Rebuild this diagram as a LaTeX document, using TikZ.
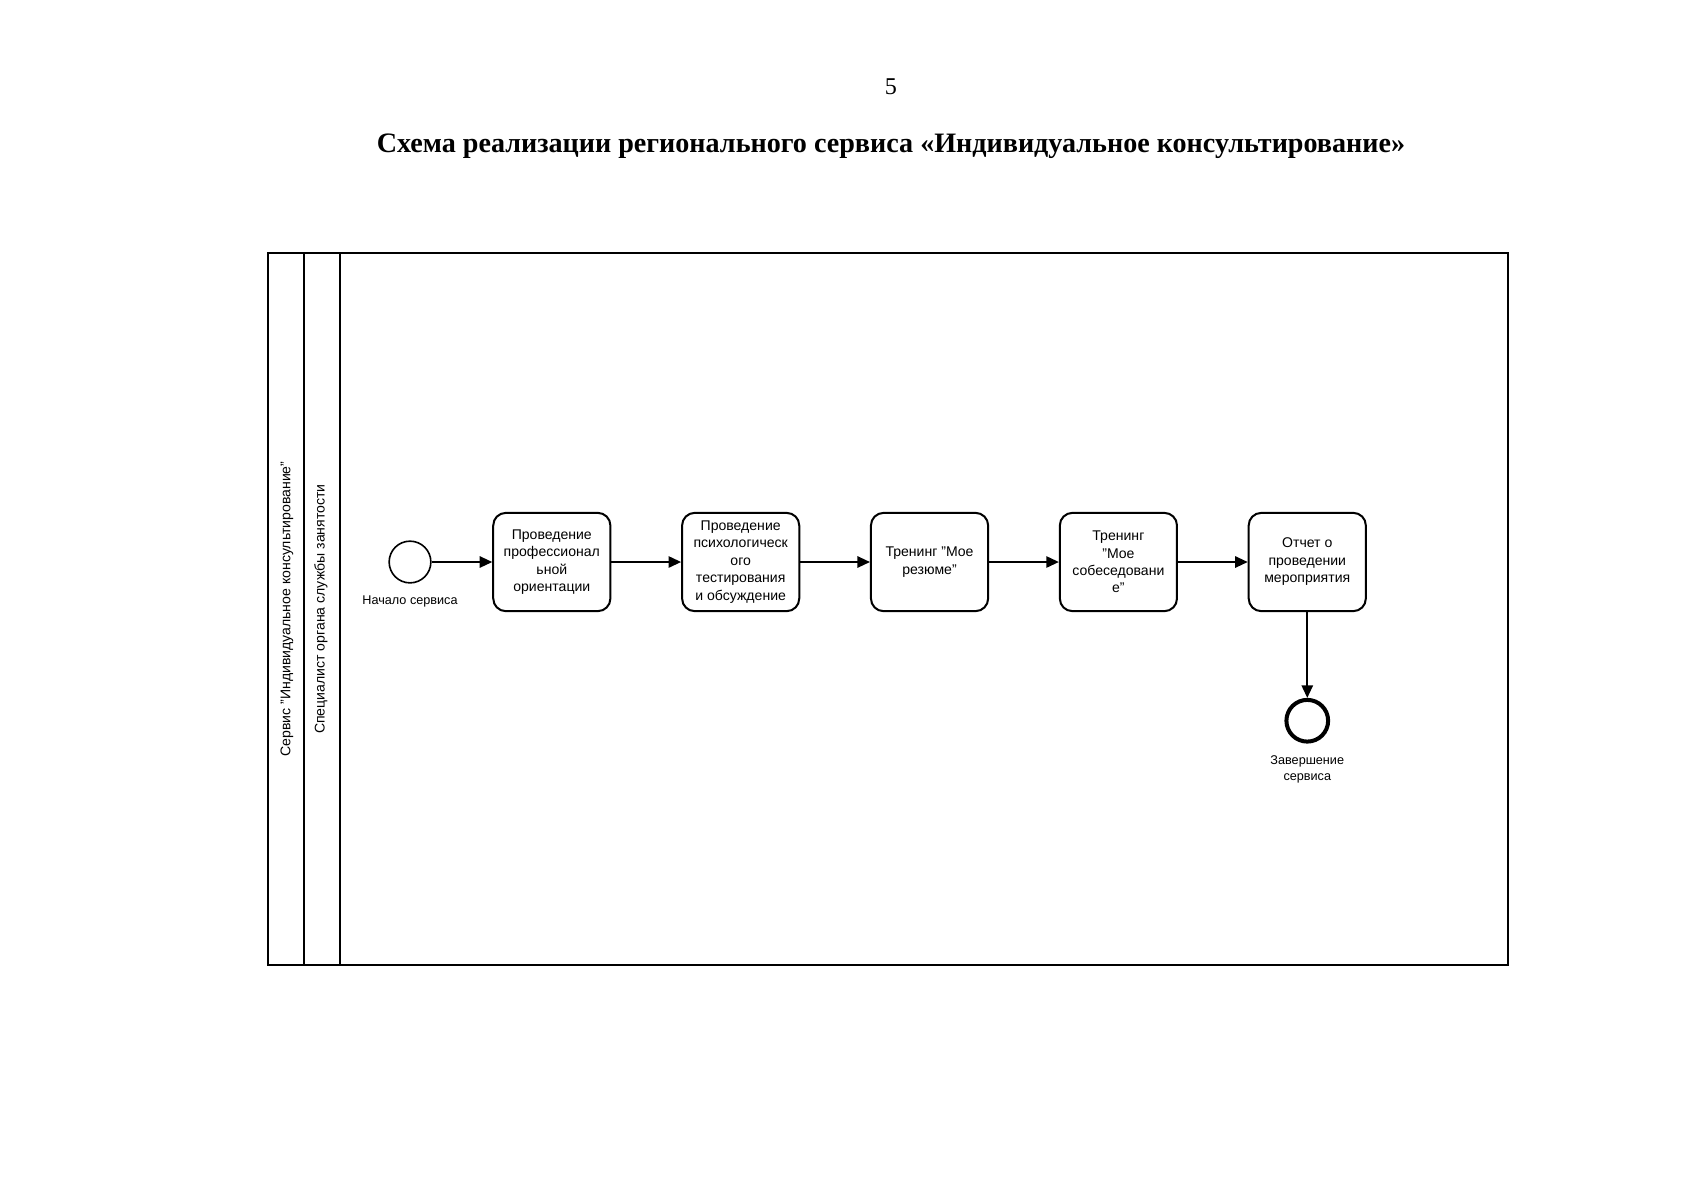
\documentclass[tikz,border=0pt]{standalone}
\usepackage{fontspec}
\setmainfont{Liberation Serif}
\setsansfont{Liberation Sans}
\usetikzlibrary{positioning,arrows.meta}
\tikzset{
  task/.style={draw,rounded corners=2.2mm,line width=1pt,minimum width=20.5mm,minimum height=17.2mm,align=center,inner sep=1pt,font=\sffamily\fontsize{7}{8.7}\selectfont},
  startev/.style={circle,draw,line width=0.8pt,minimum size=7.3mm,inner sep=0pt},
  endev/.style={circle,draw,line width=2pt,minimum size=7.3mm,inner sep=0pt},
  flow/.style={-{Triangle[length=2.2mm,width=2mm]},line width=0.8pt},
  evlabel/.style={inner sep=0pt,align=center,font=\sffamily\fontsize{6.3}{8}\selectfont},
  lanelabel/.style={rotate=90,inner sep=0pt,font=\sffamily\fontsize{7}{8}\selectfont},
  pool/.style={draw,line width=1pt}
}
\begin{document}
\begin{tikzpicture}[x=0.175mm,y=-0.175mm]
\useasboundingbox (0,0) rectangle (1697,1200);
\node (pnum) at (891,87) {\fontsize{12}{14}\selectfont 5};
\node (title) at (891,146) {\fontsize{14}{17}\selectfont\bfseries Схема реализации регионального сервиса «Индивидуальное консультирование»};
\draw[pool] (268,253) rectangle (1508,965);
\draw[pool] (304,253) -- (304,965);
\draw[pool] (340,253) -- (340,965);
\node[lanelabel] (poolname) at (287,609) {Сервис "Индивидуальное консультирование"};
\node[lanelabel] (lanename) at (321,609) {Специалист органа службы занятости};
\node[startev] (start) at (410,562) {};
\node[evlabel,below=2mm of start] (startlbl) {Начало сервиса};
\node[task,right=10.6mm of start] (t1) {Проведение\\профессионал\\ьной\\ориентации};
\node[task,right=12.2mm of t1] (t2) {Проведение\\психологическ\\ого\\тестирования\\и обсуждение};
\node[task,right=12.2mm of t2] (t3) {Тренинг "Мое\\резюме"};
\node[task,right=12.2mm of t3] (t4) {Тренинг\\"Мое\\собеседовани\\е"};
\node[task,right=12.2mm of t4] (t5) {Отчет о\\проведении\\мероприятия};
\node[endev,below=15mm of t5] (finish) {};
\node[evlabel,below=2mm of finish] (finishlbl) {Завершение\\сервиса};
\draw[flow] (start)--(t1); \draw[flow] (t1)--(t2); \draw[flow] (t2)--(t3);
\draw[flow] (t3)--(t4); \draw[flow] (t4)--(t5); \draw[flow] (t5)--(finish);
\end{tikzpicture}
\end{document}
